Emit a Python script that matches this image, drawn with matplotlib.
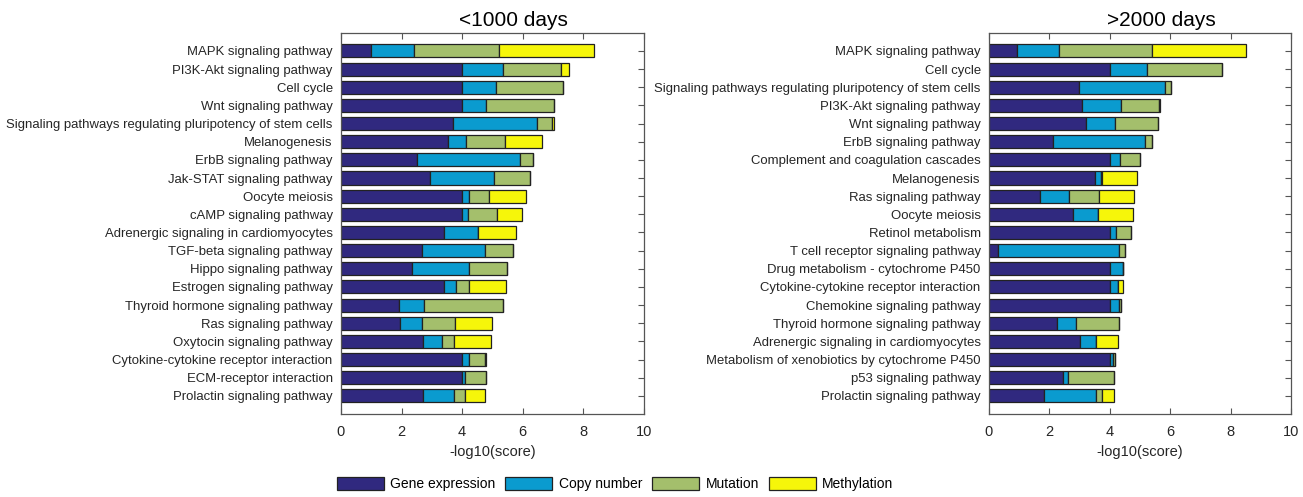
import numpy as np
import matplotlib.pyplot as plt
from matplotlib.patches import Patch

plt.rcParams['font.family'] = ['Liberation Sans', 'DejaVu Sans']

layers = ['Gene expression', 'Copy number', 'Mutation', 'Methylation']
colors = ['#30297F', '#0A9BCF', '#A4BF6C', '#F6F60A']

# <1000 days
short_paths = ['MAPK signaling pathway', 'PI3K-Akt signaling pathway', 'Cell cycle',
               'Wnt signaling pathway', 'Signaling pathways regulating pluripotency of stem cells',
               'Melanogenesis', 'ErbB signaling pathway', 'Jak-STAT signaling pathway',
               'Oocyte meiosis', 'cAMP signaling pathway', 'Adrenergic signaling in cardiomyocytes',
               'TGF-beta signaling pathway', 'Hippo signaling pathway', 'Estrogen signaling pathway',
               'Thyroid hormone signaling pathway', 'Ras signaling pathway',
               'Oxytocin signaling pathway', 'Cytokine-cytokine receptor interaction',
               'ECM-receptor interaction', 'Prolactin signaling pathway']
short_expr = [1.00, 4.00, 4.00, 4.00, 3.70, 3.53, 2.50, 2.95, 4.00, 4.00,
              3.41, 2.69, 2.36, 3.41, 1.93, 1.96, 2.70, 4.00, 4.00, 2.72]
short_cnv = [1.40, 1.35, 1.13, 0.80, 2.77, 0.60, 3.41, 2.11, 0.24, 0.20,
             1.12, 2.05, 1.85, 0.37, 0.80, 0.71, 0.65, 0.22, 0.10, 1.02]
short_mut = [2.80, 1.92, 2.19, 2.22, 0.49, 1.28, 0.44, 1.19, 0.66, 0.95,
             0.00, 0.93, 1.28, 0.46, 2.62, 1.08, 0.38, 0.54, 0.67, 0.34]
short_meth = [3.15, 0.27, 0.00, 0.00, 0.07, 1.24, 0.00, 0.00, 1.22, 0.81,
              1.26, 0.00, 0.00, 1.22, 0.00, 1.23, 1.23, 0.03, 0.00, 0.66]

# >2000 days
long_paths = ['MAPK signaling pathway', 'Cell cycle',
              'Signaling pathways regulating pluripotency of stem cells',
              'PI3K-Akt signaling pathway', 'Wnt signaling pathway', 'ErbB signaling pathway',
              'Complement and coagulation cascades', 'Melanogenesis', 'Ras signaling pathway',
              'Oocyte meiosis', 'Retinol metabolism', 'T cell receptor signaling pathway',
              'Drug metabolism - cytochrome P450', 'Cytokine-cytokine receptor interaction',
              'Chemokine signaling pathway', 'Thyroid hormone signaling pathway',
              'Adrenergic signaling in cardiomyocytes',
              'Metabolism of xenobiotics by cytochrome P450', 'p53 signaling pathway',
              'Prolactin signaling pathway']
long_expr = [0.93, 4.00, 2.99, 3.09, 3.22, 2.13, 4.00, 3.52, 1.70, 2.77,
             4.00, 0.31, 4.00, 4.00, 4.00, 2.24, 3.00, 4.00, 2.46, 1.81]
long_cnv = [1.39, 1.22, 2.83, 1.27, 0.94, 3.05, 0.35, 0.20, 0.96, 0.85,
            0.20, 3.99, 0.44, 0.28, 0.32, 0.65, 0.53, 0.11, 0.14, 1.72]
long_mut = [3.09, 2.50, 0.22, 1.27, 1.45, 0.22, 0.64, 0.03, 0.99, 0.00,
            0.49, 0.22, 0.00, 0.00, 0.05, 1.41, 0.00, 0.07, 1.55, 0.22]
long_meth = [3.10, 0.00, 0.00, 0.02, 0.00, 0.00, 0.00, 1.15, 1.16, 1.16,
             0.00, 0.00, 0.00, 0.15, 0.00, 0.00, 0.75, 0.00, 0.00, 0.40]


def stacked(ax, names, series, title):
    y = np.arange(1, len(names) + 1)
    left = np.zeros(len(names))
    for vals, c in zip(series, colors):
        vals = np.array(vals)
        ax.barh(y, vals, left=left, height=0.72, color=c,
                edgecolor='#222222', linewidth=0.9)
        left += vals
    ax.set_yticks(y)
    ax.set_yticklabels(names, fontsize=9.45, color='#262626')
    ax.set_ylim(21, 0)
    ax.set_xlim(0, 10)
    ax.set_xticks([0, 2, 4, 6, 8, 10])
    ax.tick_params(direction='in', length=4, top=True, right=True,
                   color='#555555', width=0.8)
    ax.tick_params(axis='x', labelsize=10.5, labelcolor='#262626', pad=8)
    ax.tick_params(axis='y', left=False, pad=6)
    for s in ax.spines.values():
        s.set_color('#555555')
        s.set_linewidth(0.9)
    ax.set_xlabel('-log10(score)', fontsize=10.5, color='#262626', labelpad=4)
    ax.set_title(title, fontsize=15, pad=5, x=0.57)


fig = plt.figure(figsize=(13.03, 4.97), dpi=100)
ax1 = fig.add_axes([0.2617, 0.167, 0.2325, 0.767])
ax2 = fig.add_axes([0.759, 0.167, 0.2318, 0.767])

stacked(ax1, short_paths, [short_expr, short_cnv, short_mut, short_meth], '<1000 days')
stacked(ax2, long_paths, [long_expr, long_cnv, long_mut, long_meth], '>2000 days')

handles = [Patch(facecolor=c, edgecolor='#222222', linewidth=0.9) for c in colors]
fig.legend(handles, layers, loc='center', bbox_to_anchor=(0.472, 0.026), ncol=4,
           frameon=False, fontsize=10, handlelength=3.4, handleheight=1.0,
           handletextpad=0.45, columnspacing=0.7)

fig.savefig('out.png', dpi=100)
